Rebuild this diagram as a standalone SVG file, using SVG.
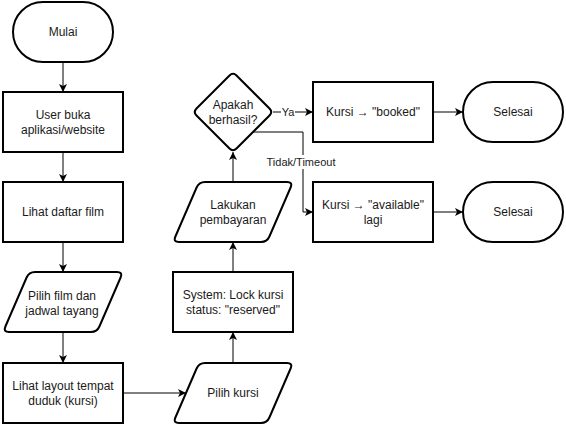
<svg xmlns="http://www.w3.org/2000/svg" width="566" height="424" viewBox="0 0 566 424">
<style>
.s{fill:#fff;stroke:#000;stroke-width:2}
.t{font-family:"Liberation Sans",Arial,sans-serif;font-size:12px;fill:#1a1a1a;text-anchor:middle;dominant-baseline:central}
.lbl{font-family:"Liberation Sans",Arial,sans-serif;font-size:11px;fill:#1a1a1a;text-anchor:middle;dominant-baseline:central}
.e{fill:none;stroke:#000;stroke-width:1}
</style>
<defs>
<marker id="arr" markerUnits="userSpaceOnUse" markerWidth="10" markerHeight="10" refX="8" refY="4" orient="auto" viewBox="0 0 10 8">
<path d="M0,0 L8,4 L0,8 L2,4 Z" fill="#000"/>
</marker>
</defs>
<rect width="566" height="424" fill="#fff"/>
<g id="connectors">
<path class="e" d="M63,62 V92" marker-end="url(#arr)"/>
<path class="e" d="M63,152 V182" marker-end="url(#arr)"/>
<path class="e" d="M63,242 V272" marker-end="url(#arr)"/>
<path class="e" d="M63,332 V363" marker-end="url(#arr)"/>
<path class="e" d="M123,393 H186" marker-end="url(#arr)"/>
<path class="e" d="M233,363 V332" marker-end="url(#arr)"/>
<path class="e" d="M233,272 V242" marker-end="url(#arr)"/>
<path class="e" d="M233,182 V152" marker-end="url(#arr)"/>
<path class="e" d="M273,112 H313" marker-end="url(#arr)"/>
<path class="e" d="M253,132 H303 V212 H313" marker-end="url(#arr)"/>
<path class="e" d="M433,112 H463" marker-end="url(#arr)"/>
<path class="e" d="M433,212 H463" marker-end="url(#arr)"/>
<rect x="281" y="105" width="14" height="14" fill="#fff"/>
<text class="lbl" x="288" y="112">Ya</text>
<rect x="266" y="155" width="71" height="14" fill="#fff"/>
<text class="lbl" x="301" y="162">Tidak/Timeout</text>
</g>
<g id="mulai">
<rect class="s" x="13" y="2" width="100" height="60" rx="30" ry="30"/>
<text class="t" x="63" y="32">Mulai</text>
</g>
<g id="buka">
<rect class="s" x="3" y="92" width="120" height="60"/>
<text class="t" x="63" y="115">User buka</text>
<text class="t" x="63" y="130">aplikasi/website</text>
</g>
<g id="daftar">
<rect class="s" x="3" y="182" width="120" height="60"/>
<text class="t" x="63" y="212">Lihat daftar film</text>
</g>
<g id="pilihfilm">
<path class="s" d="M35,272 L117,272 Q123,272 120.6,277.5 L99.4,326.5 Q97,332 91,332 L9,332 Q3,332 5.4,326.5 L26.6,277.5 Q29,272 35,272 Z"/>
<text class="t" x="62" y="296">Pilih film dan</text>
<text class="t" x="62" y="311">jadwal tayang</text>
</g>
<g id="layout">
<rect class="s" x="3" y="363" width="120" height="60"/>
<text class="t" x="63" y="386">Lihat layout tempat</text>
<text class="t" x="63" y="401">duduk (kursi)</text>
</g>
<g id="pilihkursi">
<path class="s" d="M205,363 L287,363 Q293,363 290.6,368.5 L269.4,417.5 Q267,423 261,423 L179,423 Q173,423 175.4,417.5 L196.6,368.5 Q199,363 205,363 Z"/>
<text class="t" x="233" y="393">Pilih kursi</text>
</g>
<g id="lock">
<rect class="s" x="173" y="272" width="120" height="60"/>
<text class="t" x="233" y="295">System: Lock kursi</text>
<text class="t" x="233" y="310">status: "reserved"</text>
</g>
<g id="bayar">
<path class="s" d="M205,182 L287,182 Q293,182 290.6,187.5 L269.4,236.5 Q267,242 261,242 L179,242 Q173,242 175.4,236.5 L196.6,187.5 Q199,182 205,182 Z"/>
<text class="t" x="233" y="205">Lakukan</text>
<text class="t" x="233" y="220">pembayaran</text>
</g>
<g id="berhasil">
<path class="s" d="M236.5,75.5 L269.5,108.5 Q273,112 269.5,115.5 L236.5,148.5 Q233,152 229.5,148.5 L196.5,115.5 Q193,112 196.5,108.5 L229.5,75.5 Q233,72 236.5,75.5 Z"/>
<text class="t" x="233" y="105">Apakah</text>
<text class="t" x="233" y="120">berhasil?</text>
</g>
<g id="booked">
<rect class="s" x="313" y="82" width="120" height="60"/>
<text class="t" x="373" y="112">Kursi → "booked"</text>
</g>
<g id="available">
<rect class="s" x="313" y="182" width="120" height="60"/>
<text class="t" x="373" y="205">Kursi → "available"</text>
<text class="t" x="373" y="220">lagi</text>
</g>
<g id="selesai1">
<rect class="s" x="463" y="82" width="100" height="60" rx="30" ry="30"/>
<text class="t" x="513" y="112">Selesai</text>
</g>
<g id="selesai2">
<rect class="s" x="463" y="182" width="100" height="60" rx="30" ry="30"/>
<text class="t" x="513" y="212">Selesai</text>
</g>
</svg>
